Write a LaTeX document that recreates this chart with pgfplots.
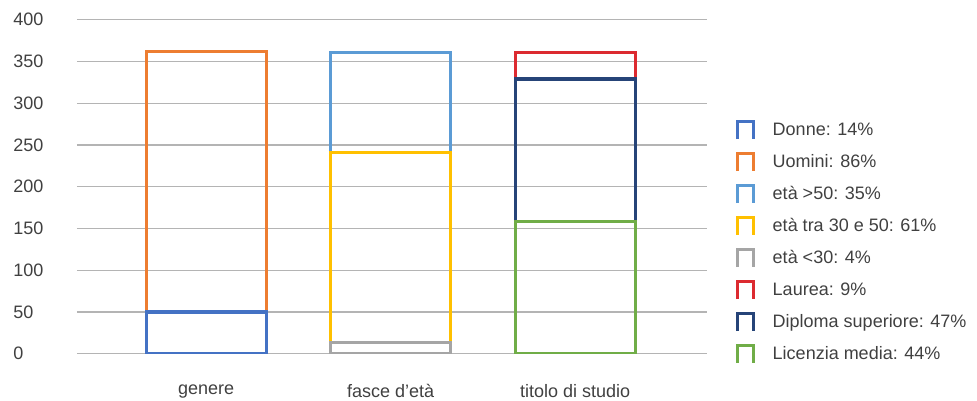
\documentclass[border=0pt]{standalone}
\usepackage{pgfplots}
\pgfplotsset{compat=1.18}
\usepackage{fontspec}
\setmainfont{Liberation Sans}
\definecolor{cDonne}{HTML}{4472C4}
\definecolor{cUomini}{HTML}{ED7D31}
\definecolor{cOver}{HTML}{5B9BD5}
\definecolor{cMid}{HTML}{FFC000}
\definecolor{cUnder}{HTML}{A5A5A5}
\definecolor{cLaurea}{HTML}{DC2A30}
\definecolor{cDiploma}{HTML}{264478}
\definecolor{cLic}{HTML}{70AD47}
\definecolor{txt}{HTML}{404040}
\definecolor{gridc}{HTML}{B4B4B4}
\begin{document}
\begin{tikzpicture}
\path[use as bounding box] (-57.75pt,-35.25pt) rectangle (675pt,265.3pt);
\begin{axis}[
  at={(0pt,0pt)}, anchor=south west,
  width=472.5pt, height=250.5pt, scale only axis,
  xmin=-0.70, xmax=2.715,
  ymin=0, ymax=400,
  ytick={0,50,...,400},
  xtick={0,1,2},
  xticklabels={genere, fasce d’età, titolo di studio},
  axis line style={draw=none},
  major tick length=0pt,
  ymajorgrids, xmajorgrids=false,
  grid style={draw=gridc, line width=0.8pt},
  /pgf/number format/assume math mode=true,
  tick label style={font=\fontsize{13.5}{16}\selectfont, text=txt},
  yticklabel style={anchor=west, inner sep=0pt, xshift=-48pt},
  xticklabel style={anchor=north, inner sep=0pt, yshift=-23pt},
  bar width=90pt,
  legend style={at={(1.040,0.711)}, anchor=north west, draw=none, fill=none,
    font=\fontsize{13.5}{16}\selectfont, text=txt,
    nodes={inner sep=2pt, text height=10pt, text depth=3pt},
    row sep=7pt,
    /tikz/every odd column/.append style={column sep=11pt}},
  legend cell align=left,
  legend image code/.code={\draw[#1, line width=2.2pt] (0pt,-6.5pt) -- (0pt,6.5pt) -- (12pt,6.5pt) -- (12pt,-6.5pt);},
]
% each bar is drawn from its total downward: values are the cumulative tops of the segments
\addplot[ybar, bar shift=0pt, draw=cUomini, fill=none, line width=2.3pt, forget plot] coordinates {(0,362)};
\addplot[ybar, bar shift=0pt, draw=cDonne, fill=none, line width=2.3pt, forget plot] coordinates {(0,50)};
\addplot[ybar, bar shift=0pt, draw=cOver, fill=none, line width=2.3pt, forget plot] coordinates {(1,361)};
\addplot[ybar, bar shift=0pt, draw=cMid, fill=none, line width=2.3pt, forget plot] coordinates {(1,241)};
\addplot[ybar, bar shift=0pt, draw=cUnder, fill=none, line width=2.3pt, forget plot] coordinates {(1,13)};
\addplot[ybar, bar shift=0pt, draw=cLaurea, fill=none, line width=2.3pt, forget plot] coordinates {(2,361)};
\addplot[ybar, bar shift=0pt, draw=cDiploma, fill=none, line width=2.3pt, forget plot] coordinates {(2,329)};
\addplot[ybar, bar shift=0pt, draw=cLic, fill=none, line width=2.3pt, forget plot] coordinates {(2,158)};
\addlegendimage{cDonne}\addlegendentry{Donne: 14\%}
\addlegendimage{cUomini}\addlegendentry{Uomini: 86\%}
\addlegendimage{cOver}\addlegendentry{età >50: 35\%}
\addlegendimage{cMid}\addlegendentry{età tra 30 e 50: 61\%}
\addlegendimage{cUnder}\addlegendentry{età <30: 4\%}
\addlegendimage{cLaurea}\addlegendentry{Laurea: 9\%}
\addlegendimage{cDiploma}\addlegendentry{Diploma superiore: 47\%}
\addlegendimage{cLic}\addlegendentry{Licenzia media: 44\%}
\end{axis}
\end{tikzpicture}
\end{document}
